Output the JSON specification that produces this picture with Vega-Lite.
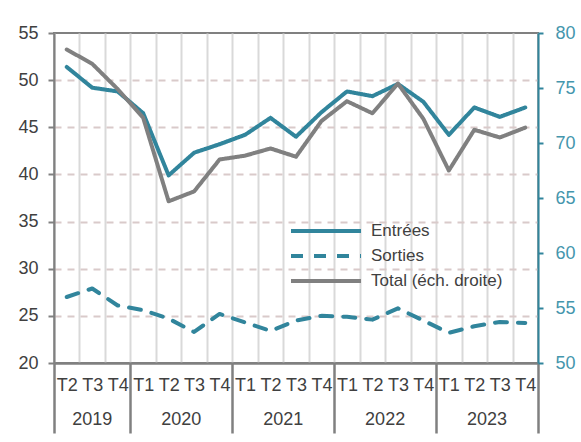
{
  "$schema": "https://vega.github.io/schema/vega-lite/v6.json",
  "width": 484,
  "height": 330,
  "autosize": {"type": "none"},
  "padding": {"left": 54, "top": 33, "right": 43, "bottom": 79},
  "background": "white",
  "config": {
    "font": "Liberation Sans",
    "view": {"stroke": "#808080", "strokeWidth": 2},
    "axis": {"labelFont": "Liberation Sans"},
    "legend": {"labelFont": "Liberation Sans"}
  },
  "data": {
    "values": [
      {"periode": "2019 T2", "serie": "Entrées", "valeur": 51.4},
      {"periode": "2019 T3", "serie": "Entrées", "valeur": 49.2},
      {"periode": "2019 T4", "serie": "Entrées", "valeur": 48.8},
      {"periode": "2020 T1", "serie": "Entrées", "valeur": 46.5},
      {"periode": "2020 T2", "serie": "Entrées", "valeur": 39.9},
      {"periode": "2020 T3", "serie": "Entrées", "valeur": 42.3},
      {"periode": "2020 T4", "serie": "Entrées", "valeur": 43.2},
      {"periode": "2021 T1", "serie": "Entrées", "valeur": 44.2},
      {"periode": "2021 T2", "serie": "Entrées", "valeur": 46.0},
      {"periode": "2021 T3", "serie": "Entrées", "valeur": 44.0},
      {"periode": "2021 T4", "serie": "Entrées", "valeur": 46.6},
      {"periode": "2022 T1", "serie": "Entrées", "valeur": 48.8},
      {"periode": "2022 T2", "serie": "Entrées", "valeur": 48.3},
      {"periode": "2022 T3", "serie": "Entrées", "valeur": 49.6},
      {"periode": "2022 T4", "serie": "Entrées", "valeur": 47.7},
      {"periode": "2023 T1", "serie": "Entrées", "valeur": 44.2},
      {"periode": "2023 T2", "serie": "Entrées", "valeur": 47.1},
      {"periode": "2023 T3", "serie": "Entrées", "valeur": 46.1},
      {"periode": "2023 T4", "serie": "Entrées", "valeur": 47.1},
      {"periode": "2019 T2", "serie": "Sorties", "valeur": 27.0},
      {"periode": "2019 T3", "serie": "Sorties", "valeur": 27.9},
      {"periode": "2019 T4", "serie": "Sorties", "valeur": 26.1},
      {"periode": "2020 T1", "serie": "Sorties", "valeur": 25.6},
      {"periode": "2020 T2", "serie": "Sorties", "valeur": 24.7},
      {"periode": "2020 T3", "serie": "Sorties", "valeur": 23.3},
      {"periode": "2020 T4", "serie": "Sorties", "valeur": 25.2},
      {"periode": "2021 T1", "serie": "Sorties", "valeur": 24.3},
      {"periode": "2021 T2", "serie": "Sorties", "valeur": 23.4},
      {"periode": "2021 T3", "serie": "Sorties", "valeur": 24.5},
      {"periode": "2021 T4", "serie": "Sorties", "valeur": 25.0},
      {"periode": "2022 T1", "serie": "Sorties", "valeur": 24.9},
      {"periode": "2022 T2", "serie": "Sorties", "valeur": 24.6},
      {"periode": "2022 T3", "serie": "Sorties", "valeur": 25.8},
      {"periode": "2022 T4", "serie": "Sorties", "valeur": 24.5},
      {"periode": "2023 T1", "serie": "Sorties", "valeur": 23.2},
      {"periode": "2023 T2", "serie": "Sorties", "valeur": 23.9},
      {"periode": "2023 T3", "serie": "Sorties", "valeur": 24.35},
      {"periode": "2023 T4", "serie": "Sorties", "valeur": 24.25},
      {"periode": "2019 T2", "serie": "Total (éch. droite)", "valeur": 78.5},
      {"periode": "2019 T3", "serie": "Total (éch. droite)", "valeur": 77.2},
      {"periode": "2019 T4", "serie": "Total (éch. droite)", "valeur": 74.9},
      {"periode": "2020 T1", "serie": "Total (éch. droite)", "valeur": 72.3},
      {"periode": "2020 T2", "serie": "Total (éch. droite)", "valeur": 64.7},
      {"periode": "2020 T3", "serie": "Total (éch. droite)", "valeur": 65.6},
      {"periode": "2020 T4", "serie": "Total (éch. droite)", "valeur": 68.5},
      {"periode": "2021 T1", "serie": "Total (éch. droite)", "valeur": 68.85},
      {"periode": "2021 T2", "serie": "Total (éch. droite)", "valeur": 69.5},
      {"periode": "2021 T3", "serie": "Total (éch. droite)", "valeur": 68.75},
      {"periode": "2021 T4", "serie": "Total (éch. droite)", "valeur": 72.0},
      {"periode": "2022 T1", "serie": "Total (éch. droite)", "valeur": 73.8},
      {"periode": "2022 T2", "serie": "Total (éch. droite)", "valeur": 72.7},
      {"periode": "2022 T3", "serie": "Total (éch. droite)", "valeur": 75.4},
      {"periode": "2022 T4", "serie": "Total (éch. droite)", "valeur": 72.2},
      {"periode": "2023 T1", "serie": "Total (éch. droite)", "valeur": 67.5},
      {"periode": "2023 T2", "serie": "Total (éch. droite)", "valeur": 71.2},
      {"periode": "2023 T3", "serie": "Total (éch. droite)", "valeur": 70.5},
      {"periode": "2023 T4", "serie": "Total (éch. droite)", "valeur": 71.4}
    ]
  },
  "layer": [
    {
      "transform": [{"filter": "datum.serie !== 'Total (éch. droite)'"}],
      "mark": {"type": "line", "strokeWidth": 4, "strokeCap": "round", "strokeJoin": "round"},
      "encoding": {
        "x": {
          "field": "periode", "type": "ordinal", "sort": null, "title": null,
          "scale": {"type": "band", "paddingInner": 0, "paddingOuter": 0},
          "axis": {
            "orient": "bottom",
            "labelExpr": "slice(datum.label, -2)",
            "labelAngle": 0, "labelFontSize": 18, "labelColor": "#404040",
            "labelPadding": -57, "labelOverlap": false,
            "tickBand": "extent",
            "ticks": true, "tickSize": 70, "tickWidth": 2.5, "tickColor": "#808080",
            "tickOpacity": {"condition": {"test": "datum.extra || slice(datum.value + '', -2) === 'T4'", "value": 1}, "value": 0},
            "grid": true, "gridColor": "#d9d9d9", "gridWidth": 2,
            "domain": true, "domainColor": "#808080", "domainWidth": 2.5
          }
        },
        "y": {
          "field": "valeur", "type": "quantitative", "title": null,
          "scale": {"domain": [20, 55], "nice": false, "zero": false},
          "axis": {
            "orient": "left",
            "values": [20, 25, 30, 35, 40, 45, 50, 55],
            "labelFontSize": 18, "labelColor": "#404040", "labelPadding": 10,
            "tickSize": 6, "tickWidth": 2, "tickColor": "#808080",
            "domainColor": "#808080", "domainWidth": 2,
            "grid": true, "gridColor": "#d9caca", "gridDash": [7, 6], "gridWidth": 2,
            "gridOpacity": {"condition": {"test": "datum.value === 20 || datum.value === 55", "value": 0}, "value": 1}
          }
        },
        "color": {
          "field": "serie", "type": "nominal",
          "scale": {"domain": ["Entrées", "Sorties", "Total (éch. droite)"], "range": ["#31859C", "#31859C", "#808080"]},
          "legend": {
            "title": null, "orient": "none", "legendX": 291, "legendY": 189,
            "symbolType": "M-9,0H1", "symbolSize": 196, "symbolStrokeWidth": 4,
            "labelFontSize": 17, "labelColor": "#404040", "labelOffset": 8, "rowPadding": 8
          }
        },
        "strokeDash": {
          "field": "serie", "type": "nominal",
          "scale": {"domain": ["Entrées", "Sorties", "Total (éch. droite)"], "range": [[1, 0], [12, 11], [1, 0]]},
          "legend": {
            "title": null, "orient": "none", "legendX": 291, "legendY": 189,
            "symbolType": "M-9,0H1", "symbolSize": 196, "symbolStrokeWidth": 4,
            "labelFontSize": 17, "labelColor": "#404040", "labelOffset": 8, "rowPadding": 8
          }
        }
      }
    },
    {
      "transform": [{"filter": "datum.serie === 'Total (éch. droite)'"}],
      "mark": {"type": "line", "strokeWidth": 4, "strokeCap": "round", "strokeJoin": "round"},
      "encoding": {
        "x": {
          "field": "periode", "type": "ordinal", "sort": null, "title": null,
          "scale": {"type": "band", "paddingInner": 0, "paddingOuter": 0},
          "axis": {
            "orient": "bottom",
            "values": ["2019 T3", "2020 T2", "2021 T2", "2022 T2", "2023 T2"],
            "labelExpr": "slice(datum.label, 0, 4)",
            "labelOffset": {"condition": {"test": "datum.value !== '2019 T3'", "value": 12.7}, "value": 0},
            "labelAngle": 0, "labelFontSize": 18, "labelColor": "#404040",
            "labelPadding": 47, "labelOverlap": false,
            "ticks": false, "domain": false, "grid": false
          }
        },
        "y": {
          "field": "valeur", "type": "quantitative", "title": null,
          "scale": {"domain": [50, 80], "nice": false, "zero": false},
          "axis": {
            "orient": "right",
            "values": [50, 55, 60, 65, 70, 75, 80],
            "labelFontSize": 18, "labelColor": "#4496ad", "labelPadding": 12,
            "tickSize": 5, "tickWidth": 2, "tickColor": "#31859C",
            "domainColor": "#31859C", "domainWidth": 2, "grid": false
          }
        },
        "color": {
          "field": "serie", "type": "nominal",
          "scale": {"domain": ["Entrées", "Sorties", "Total (éch. droite)"], "range": ["#31859C", "#31859C", "#808080"]},
          "legend": {
            "title": null, "orient": "none", "legendX": 291, "legendY": 189,
            "symbolType": "M-9,0H1", "symbolSize": 196, "symbolStrokeWidth": 4,
            "labelFontSize": 17, "labelColor": "#404040", "labelOffset": 8, "rowPadding": 8
          }
        },
        "strokeDash": {
          "field": "serie", "type": "nominal",
          "scale": {"domain": ["Entrées", "Sorties", "Total (éch. droite)"], "range": [[1, 0], [12, 11], [1, 0]]},
          "legend": {
            "title": null, "orient": "none", "legendX": 291, "legendY": 189,
            "symbolType": "M-9,0H1", "symbolSize": 196, "symbolStrokeWidth": 4,
            "labelFontSize": 17, "labelColor": "#404040", "labelOffset": 8, "rowPadding": 8
          }
        }
      }
    }
  ],
  "resolve": {"scale": {"y": "independent"}, "axis": {"x": "independent", "y": "independent"}}
}
